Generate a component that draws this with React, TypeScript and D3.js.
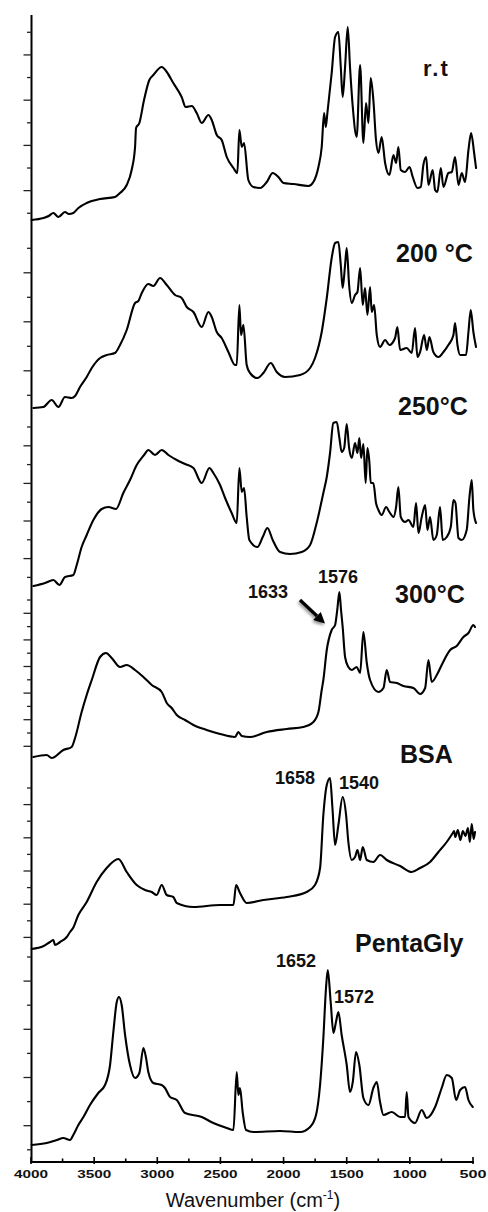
import React from 'react';
import * as d3 from 'd3';

// ---------- DATA (wavenumber cm-1, intensity a.u.) ----------
const rtSpectrum: [number, number][] = [[3995,2],[3902,4],[3860,6],[3823,9],[3783,5],[3731,10],[3700,8],[3665,9],[3625,14],[3559,19],[3453,23],[3335,25],[3295,29],[3242,37],[3203,52],[3176,75],[3168,94],[3142,99],[3105,122],[3063,142],[3031,147],[2965,155],[2925,150],[2873,139],[2807,125],[2775,115],[2727,116],[2688,109],[2648,99],[2595,107],[2569,102],[2529,87],[2490,82],[2450,65],[2397,54],[2366,49],[2350,92],[2331,75],[2313,79],[2279,42],[2239,35],[2186,34],[2133,40],[2086,49],[2041,45],[2001,39],[1922,38],[1803,36],[1764,40],[1724,55],[1698,75],[1679,109],[1666,95],[1653,109],[1619,149],[1592,185],[1566,190],[1547,155],[1532,125],[1513,155],[1492,195],[1474,155],[1452,115],[1421,85],[1394,157],[1368,79],[1347,119],[1328,99],[1310,144],[1289,122],[1268,82],[1249,69],[1223,85],[1196,59],[1162,47],[1130,67],[1109,59],[1091,75],[1072,52],[1038,50],[1003,55],[977,45],[940,34],[914,35],[893,57],[871,65],[853,37],[819,52],[800,32],[782,30],[755,54],[734,35],[695,49],[668,50],[642,65],[615,37],[589,49],[563,40],[536,72],[515,89],[491,69],[476,54]];

const t200Spectrum: [number, number][] = [[3981,2],[3902,3],[3836,10],[3783,3],[3731,13],[3678,12],[3651,14],[3612,23],[3559,33],[3519,42],[3453,52],[3401,55],[3335,57],[3295,65],[3242,80],[3176,107],[3150,109],[3123,117],[3071,126],[3031,124],[2978,132],[2925,125],[2859,115],[2807,112],[2767,103],[2714,98],[2648,83],[2595,98],[2569,93],[2529,78],[2490,72],[2437,58],[2384,45],[2371,45],[2350,105],[2337,75],[2318,85],[2292,45],[2266,37],[2207,32],[2160,37],[2102,47],[2054,38],[1988,33],[1869,35],[1790,42],[1751,52],[1698,78],[1658,112],[1619,152],[1592,167],[1566,168],[1547,145],[1532,122],[1513,145],[1500,162],[1481,125],[1460,107],[1434,115],[1415,118],[1394,142],[1373,105],[1355,122],[1336,95],[1315,123],[1302,98],[1283,105],[1262,75],[1236,63],[1196,70],[1162,65],[1117,72],[1099,83],[1077,60],[1025,62],[985,57],[959,82],[940,53],[919,58],[887,75],[866,60],[845,73],[814,58],[774,53],[734,58],[695,65],[655,75],[642,87],[623,65],[602,55],[555,55],[536,78],[518,100],[497,78],[476,63]];

const t250Spectrum: [number, number][] = [[3981,2],[3889,5],[3823,8],[3775,3],[3731,11],[3665,13],[3638,23],[3599,41],[3559,53],[3506,68],[3440,79],[3387,81],[3327,79],[3269,95],[3216,108],[3163,123],[3105,133],[3071,138],[3018,133],[2965,138],[2912,133],[2846,128],[2780,124],[2714,120],[2648,105],[2587,120],[2556,115],[2503,103],[2463,90],[2411,75],[2371,65],[2350,120],[2331,96],[2313,100],[2292,71],[2271,48],[2207,41],[2165,51],[2128,60],[2086,48],[2028,36],[1949,34],[1856,36],[1790,43],[1738,65],[1685,95],[1658,111],[1632,135],[1606,165],[1579,166],[1558,150],[1540,136],[1520,140],[1500,164],[1481,140],[1460,130],[1434,145],[1415,135],[1400,150],[1386,130],[1368,144],[1350,105],[1336,140],[1320,125],[1310,105],[1289,105],[1268,85],[1249,78],[1223,73],[1188,81],[1162,76],[1130,71],[1109,81],[1091,101],[1072,71],[1038,66],[1011,68],[972,61],[951,85],[932,55],[906,71],[879,83],[861,58],[840,71],[814,48],[787,53],[761,81],[740,48],[708,51],[676,61],[655,88],[639,85],[615,50],[589,48],[550,58],[528,91],[510,108],[497,78],[476,65]];

const t300Spectrum: [number, number][] = [[3981,3],[3876,5],[3836,2],[3744,10],[3678,13],[3651,22],[3599,48],[3559,65],[3519,80],[3453,103],[3406,107],[3361,102],[3295,93],[3242,95],[3176,90],[3110,83],[3044,75],[2965,68],[2925,57],[2886,52],[2846,45],[2780,40],[2714,35],[2609,30],[2503,26],[2384,23],[2358,28],[2331,24],[2266,23],[2133,28],[1975,31],[1843,33],[1764,38],[1724,48],[1698,70],[1685,80],[1658,110],[1619,130],[1592,135],[1575,150],[1558,168],[1545,150],[1532,133],[1513,103],[1487,93],[1460,90],[1421,93],[1394,87],[1368,128],[1341,97],[1315,80],[1249,68],[1209,72],[1183,90],[1157,78],[1104,77],[1051,74],[972,72],[919,66],[879,72],[853,100],[827,78],[787,85],[748,95],[681,110],[629,114],[576,123],[536,127],[497,135],[484,133]];

const bsaSpectrum: [number, number][] = [[3995,3],[3900,6],[3850,10],[3823,12],[3810,7],[3770,10],[3717,15],[3691,20],[3667,24],[3625,37],[3559,50],[3480,70],[3401,84],[3308,93],[3242,80],[3163,67],[3097,62],[3044,60],[3005,57],[2965,67],[2925,57],[2873,55],[2846,49],[2714,45],[2503,47],[2397,47],[2376,67],[2345,59],[2292,49],[2160,52],[1975,55],[1817,60],[1751,67],[1711,84],[1685,137],[1658,167],[1632,174],[1613,144],[1592,107],[1566,127],[1532,155],[1505,137],[1487,110],[1460,92],[1434,95],[1415,102],[1394,92],[1373,105],[1341,92],[1289,90],[1236,97],[1183,92],[1077,86],[985,80],[919,84],[840,90],[774,100],[708,110],[660,119],[650,121],[640,115],[620,122],[600,112],[580,121],[560,116],[540,124],[525,110],[510,128],[495,113],[484,120]];

const pentaGlySpectrum: [number, number][] = [[3995,3],[3876,5],[3796,8],[3744,10],[3691,8],[3665,13],[3625,23],[3585,31],[3533,43],[3467,55],[3414,63],[3374,83],[3348,116],[3321,146],[3303,151],[3282,143],[3255,113],[3216,83],[3176,70],[3142,75],[3110,100],[3089,90],[3071,76],[3031,65],[2965,63],[2939,60],[2899,51],[2846,48],[2780,35],[2648,31],[2556,25],[2450,20],[2397,18],[2371,76],[2358,53],[2345,60],[2324,36],[2297,18],[2239,16],[2028,17],[1869,16],[1790,21],[1743,33],[1711,63],[1685,110],[1664,160],[1650,178],[1627,146],[1605,115],[1585,126],[1566,136],[1540,113],[1500,83],[1474,56],[1452,66],[1426,96],[1400,83],[1368,50],[1328,43],[1289,60],[1262,66],[1236,46],[1209,33],[1143,36],[1077,31],[1038,31],[1025,56],[1011,31],[959,25],[906,38],[866,30],[800,41],[748,60],[708,73],[668,70],[634,48],[602,58],[563,61],[536,48],[502,41]];

const seriesNames = ['r.t', '200 °C', '250°C', '300°C', 'BSA', 'PentaGly'];
const seriesData = [rtSpectrum, t200Spectrum, t250Spectrum, t300Spectrum, bsaSpectrum, pentaGlySpectrum];
const xTickValues = [4000, 3500, 3000, 2500, 2000, 1500, 1000, 500];
const xMinorTickValues = [3750, 3250, 2750, 2250, 1750, 1250, 750];
const peakLabels = ['1633', '1576', '1658', '1540', '1652', '1572'];

// ---------- LAYOUT ----------
const PANEL_BASE = [222, 410, 588, 760, 952, 1148];
const LABEL_POS = [
  { x: 423, y: 76, size: 22, ls: 2 },
  { x: 396, y: 262, size: 25, ls: 0 },
  { x: 398, y: 415, size: 25, ls: 0 },
  { x: 395, y: 603, size: 25, ls: 0 },
  { x: 400, y: 763, size: 25, ls: 0 },
  { x: 355, y: 952, size: 25, ls: 0 },
];
const PEAK_POS = [
  { x: 248, y: 598 }, { x: 318, y: 583 },
  { x: 275, y: 784 }, { x: 339, y: 789 },
  { x: 276, y: 967 }, { x: 334, y: 1003 },
];
// y-axis tick groups: [start px, step px, count]
const Y_TICK_GROUPS: [number, number, number][] = [
  [32.3, 22.62, 9],
  [248.3, 24.5, 7],
  [427, 18.8, 9],
  [600, 13.3, 12],
  [788, 16.6, 10],
  [957, 24.1, 9],
];
const AXIS_X = 31.5, AXIS_TOP = 15, AXIS_BOTTOM = 1162;
const FONT = '"Liberation Sans", Arial, Helvetica, sans-serif';

export default function App() {
  const x = d3.scaleLinear().domain([4000, 500]).range([31, 473]);

  const paths = seriesData.map((data, i) => {
    const y = d3.scaleLinear().domain([0, 200]).range([PANEL_BASE[i], PANEL_BASE[i] - 200]);
    const line = d3.line<[number, number]>().x(d => x(d[0])).y(d => y(d[1])).curve(d3.curveMonotoneX);
    return line(data) || '';
  });

  const yTicks: { y: number; major: boolean }[] = [];
  Y_TICK_GROUPS.forEach(([s, st, n]) => {
    d3.range(n).forEach(k => yTicks.push({ y: s + k * st, major: k % 2 === 1 }));
  });

  // arrow (annotation for 1633 shoulder)
  const ax0 = 300, ay0 = 600, ax1 = 325, ay1 = 623.5;
  const dx = ax1 - ax0, dy = ay1 - ay0, len = Math.hypot(dx, dy);
  const ux = dx / len, uy = dy / len, px = -uy, py = ux;
  const bx = ax1 - 11 * ux, by = ay1 - 11 * uy;
  const head = `${ax1},${ay1} ${bx + 5.5 * px},${by + 5.5 * py} ${bx - 5.5 * px},${by - 5.5 * py}`;

  return (
    <svg width={488} height={1212} style={{ position: 'absolute', left: 0, top: 0, background: '#fff' }}
      fontFamily={FONT}>
      <defs>
        <filter id="shadow" x="-50%" y="-50%" width="200%" height="200%">
          <feDropShadow dx="-1" dy="2" stdDeviation="1.5" floodColor="#000" floodOpacity="0.45" />
        </filter>
      </defs>
      <rect x={0} y={0} width={488} height={1212} fill="#fff" />
      {/* spectra */}
      {paths.map((d, i) => (
        <path key={i} d={d} fill="none" stroke="#000" strokeWidth={2.1} strokeLinejoin="round" strokeLinecap="round" />
      ))}
      {/* y axis */}
      <line x1={AXIS_X} x2={AXIS_X} y1={AXIS_TOP} y2={AXIS_BOTTOM} stroke="#000" strokeWidth={2} />
      {yTicks.map((t, i) => (
        <line key={i} x1={t.major ? AXIS_X - 8 : AXIS_X - 4.5} x2={AXIS_X} y1={t.y} y2={t.y} stroke="#222" strokeWidth={1.3} />
      ))}
      {/* x axis */}
      <line x1={30.5} x2={474} y1={AXIS_BOTTOM} y2={AXIS_BOTTOM} stroke="#000" strokeWidth={2} />
      {xTickValues.map(v => (
        <line key={v} x1={x(v)} x2={x(v)} y1={AXIS_BOTTOM - 5} y2={AXIS_BOTTOM + 2} stroke="#000" strokeWidth={1.6} />
      ))}
      {xMinorTickValues.map(v => (
        <line key={v} x1={x(v)} x2={x(v)} y1={AXIS_BOTTOM - 3.5} y2={AXIS_BOTTOM} stroke="#000" strokeWidth={1.6} />
      ))}
      {xTickValues.map(v => {
        const s = String(v);
        return (
          <text key={v} x={x(v)} y={1178} textAnchor="middle" fontSize={11} fontWeight="bold"
            textLength={s.length === 4 ? 34 : 27} lengthAdjust="spacingAndGlyphs" fill="#111">{s}</text>
        );
      })}
      <text x={253} y={1207} textAnchor="middle" fontSize={20} fill="#111">
        Wavenumber (cm<tspan dy={-8} fontSize={12}>-1</tspan><tspan dy={8}>)</tspan>
      </text>
      {/* panel labels */}
      {seriesNames.map((n, i) => (
        <text key={n} x={LABEL_POS[i].x} y={LABEL_POS[i].y} fontSize={LABEL_POS[i].size} fontWeight="bold"
          letterSpacing={LABEL_POS[i].ls} fill="#111">{n}</text>
      ))}
      {/* peak labels */}
      {peakLabels.map((p, i) => (
        <text key={i} x={PEAK_POS[i].x} y={PEAK_POS[i].y} fontSize={18} fontWeight="bold" fill="#111">{p}</text>
      ))}
      {/* arrow */}
      <g filter="url(#shadow)">
        <line x1={ax0} y1={ay0} x2={bx} y2={by} stroke="#000" strokeWidth={3.2} />
        <polygon points={head} fill="#000" />
      </g>
    </svg>
  );
}
